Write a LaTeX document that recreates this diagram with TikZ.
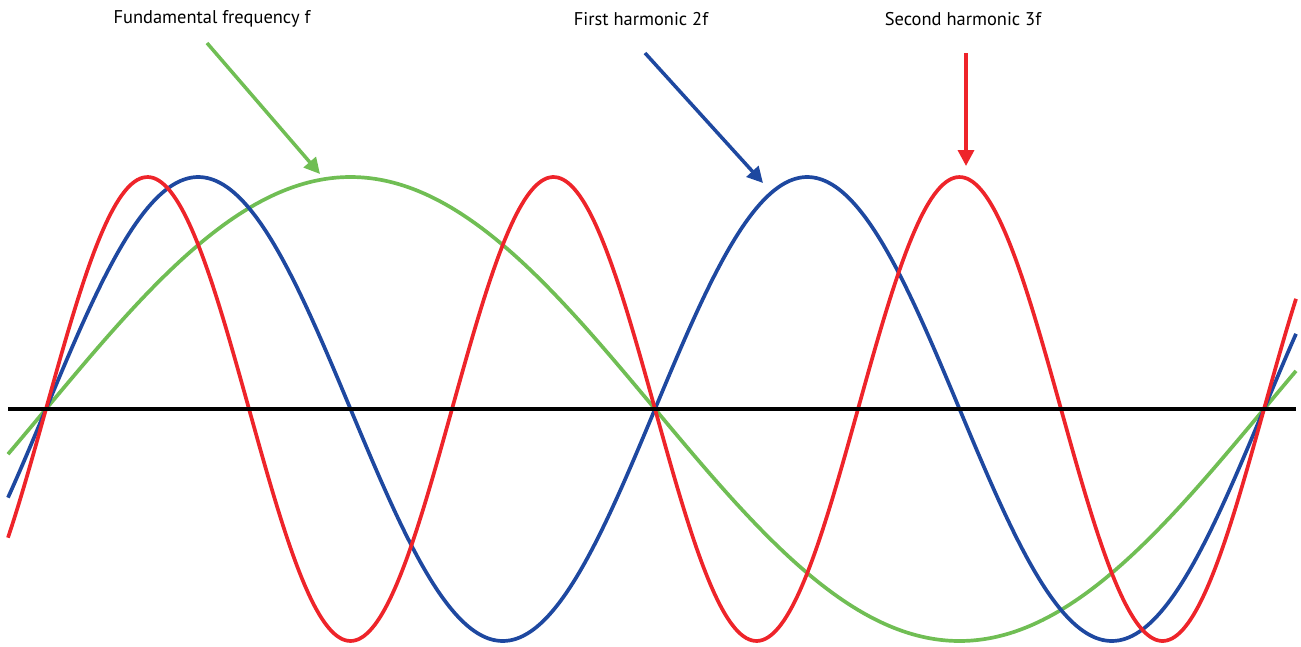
\documentclass[tikz,border=0pt]{standalone}
\usepackage{fontspec}
\setmainfont{PT Sans}
\usetikzlibrary{arrows.meta}
\definecolor{fundgreen}{RGB}{112,190,84}
\definecolor{harmblue}{RGB}{30,72,160}
\definecolor{harmred}{RGB}{238,36,42}
\begin{document}
\begin{tikzpicture}[
    x=0.02cm,
    y=-0.02cm,
    wave/.style={line width=2.1pt, smooth, samples=240},
    pointer/.style={line width=2pt, -{Triangle[length=9pt, width=9pt]}},
    label/.style={font=\fontsize{10.5}{12}\selectfont, inner sep=0pt, anchor=center},
]

% Picture frame (pixel coordinates, y downwards)
\useasboundingbox (0,0) rectangle (1301,646);

% Zero line
\def\Y{409}
\def\A{232}
\def\P{1218}

% Waves: f, 2f and 3f, all crossing at x=46
\draw[wave, fundgreen, domain=8:1296] plot (\x, {\Y-\A*sin((\x-46)/\P*360)});
\draw[wave, harmblue,  domain=8:1296] plot (\x, {\Y-\A*sin((\x-46)/\P*720)});
\draw[wave, harmred,   domain=8:1296] plot (\x, {\Y-\A*sin((\x-46)/\P*1080)});

% Axis
\coordinate (axl) at (8,\Y);
\coordinate (axr) at (1296,\Y);
\draw[line width=2.5pt, black] (axl) -- (axr);

% Labels
\node[label] (fund)   at (212,19) {Fundamental frequency f};
\node[label] (first)  at (641,19) {First harmonic 2f};
\node[label] (second) at (963,19) {Second harmonic 3f};

% Pointers to the crests
\coordinate (fundfrom)   at (207,43);
\coordinate (fundto)     at (320,174);
\coordinate (firstfrom)  at (645,53);
\coordinate (firstto)    at (763,183);
\coordinate (secondfrom) at (966,53);
\coordinate (secondto)   at (966,166);
\draw[pointer, fundgreen] (fundfrom) -- (fundto);
\draw[pointer, harmblue]  (firstfrom) -- (firstto);
\draw[pointer, harmred]   (secondfrom) -- (secondto);

\end{tikzpicture}
\end{document}
